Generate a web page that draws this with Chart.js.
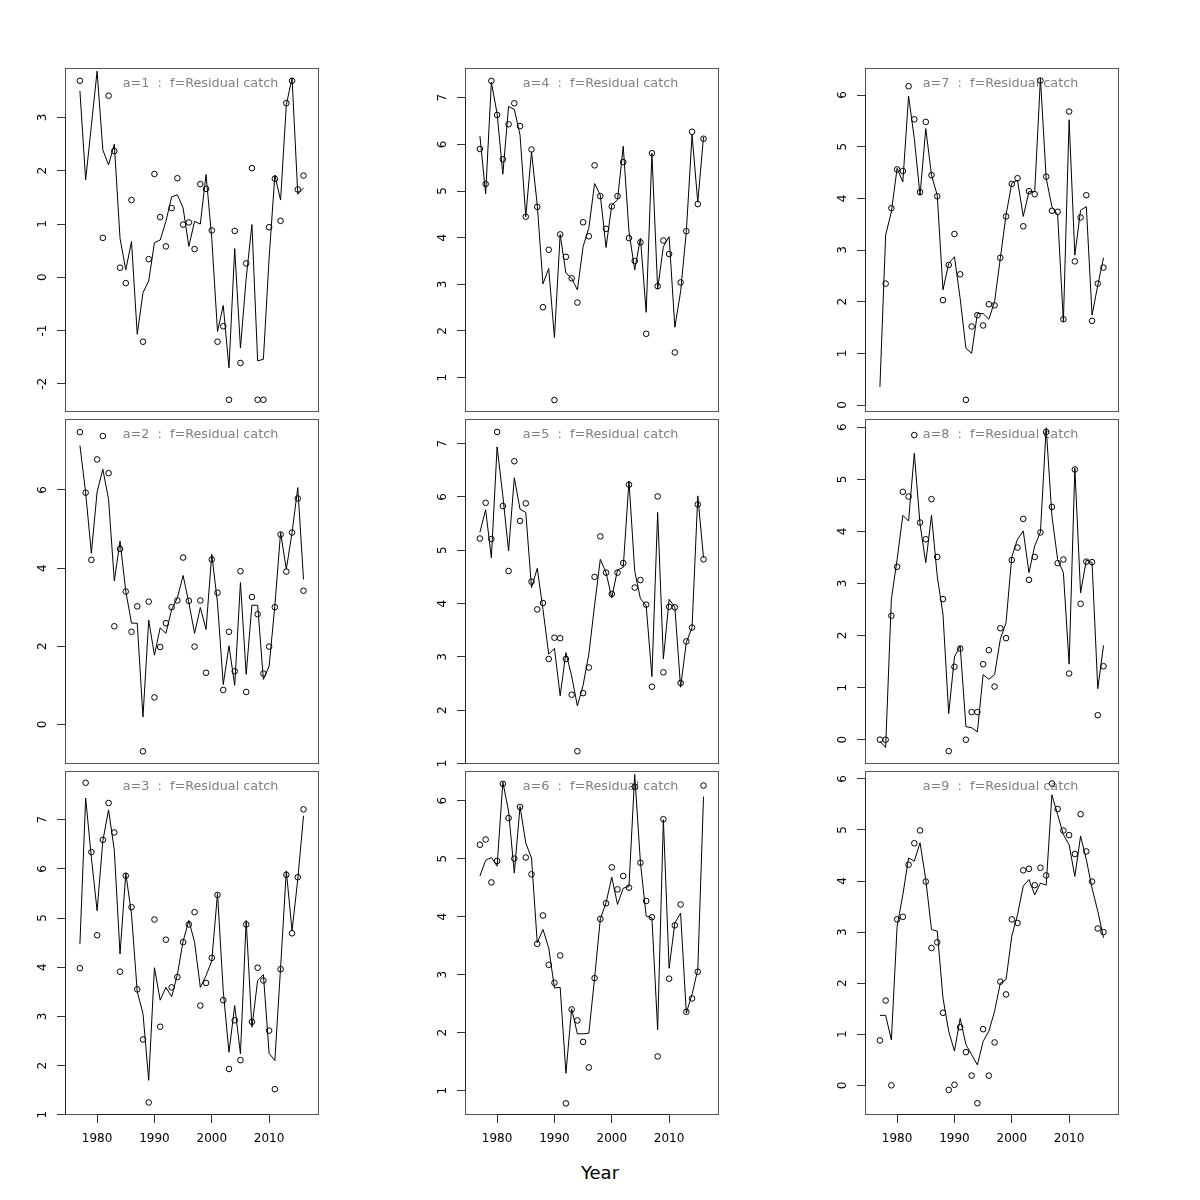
<!DOCTYPE html>
<html>
<head>
<meta charset="utf-8">
<script src="https://cdn.jsdelivr.net/npm/chart.js@4/dist/chart.umd.min.js"></script>
<style>
  html, body { margin: 0; padding: 0; background: #fff; }
  #page { position: relative; width: 1200px; height: 1200px; overflow: hidden; }
  #page canvas { position: absolute; }
  #xlab { position: absolute; left: 0; width: 1200px; top: 1162px; text-align: center;
          font-family: 'DejaVu Sans'; font-size: 18px; line-height: 22px; color: #000; }
</style>
</head>
<body>
<div id="page">
  <div id="xlab">Year</div>
</div>
<script>
// years 1977-2016
const years = [1977, 1978, 1979, 1980, 1981, 1982, 1983, 1984, 1985, 1986,
               1987, 1988, 1989, 1990, 1991, 1992, 1993, 1994, 1995, 1996,
               1997, 1998, 1999, 2000, 2001, 2002, 2003, 2004, 2005, 2006,
               2007, 2008, 2009, 2010, 2011, 2012, 2013, 2014, 2015, 2016];

// observed residual catch (circles) and fitted (line), one pair per age
const obsA1 = [3.69, null, null, null, 0.74, 3.41, 2.37, 0.18, -0.11, 1.45,
               null, -1.21, 0.34, 1.94, 1.13, 0.58, 1.30, 1.86, 0.99, 1.03,
               0.53, 1.75, 1.66, 0.88, -1.21, -0.92, -2.30, 0.87, -1.61, 0.26,
               2.05, -2.30, -2.30, 0.94, 1.85, 1.06, 3.27, 3.69, 1.65, 1.91];
const fitA1 = [3.50, 1.83, 2.85, 3.87, 2.39, 2.11, 2.50, 0.73, 0.14, 0.67,
               -1.07, -0.29, -0.07, 0.65, 0.70, 1.05, 1.51, 1.55, 1.30, 0.58,
               1.05, 1.00, 1.93, 0.73, -1.02, -0.53, -1.70, 0.54, -1.33, -0.02,
               0.99, -1.57, -1.54, 0.36, 1.92, 1.45, 3.24, 3.74, 1.56, 1.68];

const obsA2 = [7.48, 5.93, 4.21, 6.78, 7.38, 6.43, 2.51, 4.49, 3.40, 2.37,
               3.02, -0.69, 3.14, 0.69, 1.98, 2.59, 3.00, 3.17, 4.27, 3.16,
               1.99, 3.17, 1.32, 4.22, 3.37, 0.88, 2.37, 1.36, 3.92, 0.83,
               3.26, 2.82, 1.30, 1.99, 3.00, 4.86, 3.91, 4.91, 5.78, 3.42];
const fitA2 = [7.14, 5.93, 4.38, 5.95, 6.53, 5.76, 3.67, 4.69, 3.41, 2.59,
               2.59, 0.19, 2.67, 1.77, 2.47, 2.33, 2.94, 3.24, 3.81, 3.11,
               2.33, 2.99, 2.43, 4.35, 3.11, 1.02, 2.01, 1.00, 3.63, 1.28,
               3.05, 3.05, 1.15, 1.49, 3.03, 4.91, 3.97, 4.91, 6.06, 3.71];

const obsA3 = [3.98, 7.75, 6.34, 4.65, 6.59, 7.34, 6.74, 3.91, 5.86, 5.22,
               3.55, 2.53, 1.25, 4.97, 2.79, 4.56, 3.59, 3.80, 4.51, 4.87,
               5.12, 3.22, 3.68, 4.19, 5.47, 3.33, 1.93, 2.92, 2.11, 4.87,
               2.89, 3.99, 3.73, 2.71, 1.52, 3.96, 5.88, 4.69, 5.83, 7.21];
const fitA3 = [4.47, 7.44, 6.23, 5.15, 6.57, 7.20, 6.38, 4.27, 5.91, 5.08,
               3.50, 3.06, 1.70, 3.99, 3.33, 3.59, 3.40, 3.85, 4.53, 4.95,
               4.51, 3.59, 3.83, 4.13, 5.50, 3.52, 2.27, 3.22, 2.24, 4.95,
               2.78, 3.73, 3.85, 2.25, 2.10, 3.99, 5.96, 4.74, 5.79, 7.08];

const obsA4 = [5.90, 5.15, 7.36, 6.63, 5.68, 6.43, 6.88, 6.39, 4.45, 5.89,
               4.66, 2.51, 3.74, 0.52, 4.07, 3.59, 3.13, 2.61, 4.33, 4.03,
               5.55, 4.89, 4.19, 4.67, 4.89, 5.62, 3.99, 3.50, 3.90, 1.94,
               5.81, 2.96, 3.94, 3.65, 1.54, 3.04, 4.14, 6.27, 4.72, 6.12];
const fitA4 = [6.18, 4.94, 7.33, 6.66, 5.36, 6.81, 6.75, 6.20, 4.45, 5.84,
               4.70, 3.01, 3.34, 1.86, 4.07, 3.24, 3.13, 2.88, 3.81, 4.21,
               5.16, 4.91, 3.79, 4.70, 4.81, 5.96, 4.13, 3.31, 3.99, 2.40,
               5.81, 2.90, 3.81, 4.02, 2.08, 2.84, 4.13, 6.20, 4.76, 6.16];

const obsA5 = [5.22, 5.89, 5.21, 7.22, 5.83, 4.61, 6.67, 5.55, 5.88, 4.41,
               3.89, 4.01, 2.96, 3.36, 3.35, 2.96, 2.29, 1.23, 2.32, 2.80,
               4.50, 5.26, 4.58, 4.18, 4.58, 4.76, 6.23, 4.30, 4.44, 3.98,
               2.44, 6.01, 2.71, 3.94, 3.93, 2.51, 3.29, 3.55, 5.86, 4.83];
const fitA5 = [5.34, 5.76, 4.86, 6.94, 6.02, 4.99, 6.36, 5.77, 5.71, 4.30,
               4.66, 3.89, 3.05, 3.16, 2.27, 3.08, 2.64, 2.08, 2.47, 3.05,
               3.97, 4.83, 4.58, 4.11, 4.63, 4.68, 6.30, 4.61, 4.09, 3.96,
               2.63, 5.71, 2.96, 4.08, 3.93, 2.43, 3.27, 3.55, 6.02, 4.86];

const obsA6 = [5.24, 5.33, 4.59, 4.96, 6.29, 5.70, 5.00, 5.89, 5.02, 4.73,
               3.53, 4.02, 3.17, 2.86, 3.33, 0.78, 2.40, 2.21, 1.84, 1.40,
               2.94, 3.96, 4.23, 4.85, 4.47, 4.70, 4.50, 6.24, 4.93, 4.27,
               3.99, 1.59, 5.68, 2.93, 3.85, 4.21, 2.36, 2.59, 3.05, 6.26];
const fitA6 = [4.70, 4.97, 5.02, 4.87, 6.32, 5.82, 4.75, 5.90, 5.27, 5.01,
               3.55, 3.78, 3.46, 2.77, 2.78, 1.30, 2.41, 1.98, 1.98, 1.99,
               2.94, 3.96, 4.24, 4.68, 4.21, 4.49, 4.52, 6.45, 4.93, 4.01,
               3.98, 2.05, 5.67, 3.11, 3.89, 4.06, 2.34, 2.66, 3.09, 6.07];

const obsA7 = [null, 2.35, 3.81, 4.56, 4.53, 6.17, 5.53, 4.12, 5.48, 4.45,
               4.04, 2.03, 2.71, 3.31, 2.53, 0.10, 1.52, 1.74, 1.54, 1.95,
               1.93, 2.85, 3.65, 4.28, 4.39, 3.46, 4.14, 4.08, 6.28, 4.42,
               3.76, 3.74, 1.66, 5.68, 2.78, 3.63, 4.06, 1.63, 2.35, 2.66];
const fitA7 = [0.35, 3.29, 3.74, 4.58, 4.32, 5.98, 5.16, 4.06, 5.35, 4.45,
               4.06, 2.23, 2.74, 2.87, 2.06, 1.10, 1.00, 1.77, 1.77, 1.66,
               2.00, 2.84, 3.68, 4.29, 4.35, 3.65, 4.13, 4.13, 6.32, 4.39,
               3.84, 3.68, 1.61, 5.52, 2.90, 3.77, 3.84, 1.74, 2.32, 2.85];

const obsA8 = [0.00, 0.00, 2.38, 3.32, 4.76, 4.67, 5.85, 4.17, 3.85, 4.62,
               3.51, 2.70, -0.22, 1.40, 1.75, 0.00, 0.53, 0.53, 1.45, 1.72,
               1.02, 2.14, 1.95, 3.45, 3.69, 4.24, 3.07, 3.51, 3.98, 5.91,
               4.47, 3.39, 3.46, 1.27, 5.19, 2.61, 3.42, 3.41, 0.47, 1.41];
const fitA8 = [-0.03, -0.15, 2.70, 3.46, 4.31, 4.20, 5.50, 4.14, 3.40, 4.31,
               3.14, 2.41, 0.50, 1.59, 1.80, 0.25, 0.23, 0.15, 1.25, 1.16,
               1.25, 1.93, 2.25, 3.51, 3.85, 4.01, 3.21, 3.72, 3.99, 5.99,
               4.30, 3.46, 3.21, 1.45, 5.22, 2.82, 3.45, 3.40, 0.98, 1.81];

const obsA9 = [0.88, 1.66, 0.00, 3.25, 3.30, 4.32, 4.74, 4.99, 3.99, 2.69,
               2.80, 1.42, -0.09, 0.01, 1.14, 0.65, 0.19, -0.35, 1.10, 0.19,
               0.84, 2.03, 1.78, 3.25, 3.18, 4.21, 4.24, 3.92, 4.26, 4.11,
               5.91, 5.41, 4.99, 4.90, 4.53, 5.31, 4.58, 3.99, 3.07, 3.00];
const fitA9 = [1.37, 1.37, 0.89, 3.11, 3.73, 4.45, 4.39, 4.75, 4.03, 3.05,
               3.02, 1.71, 1.06, 0.67, 1.31, 0.80, 0.60, 0.40, 0.86, 1.06,
               1.45, 2.00, 2.07, 2.92, 3.34, 3.90, 4.03, 3.73, 3.96, 3.92,
               5.69, 5.30, 4.91, 4.71, 4.09, 4.88, 4.42, 3.86, 3.41, 2.89];

const xTickYears = [1980, 1990, 2000, 2010];

// panel layout (column-major like the R plot)
const colLeft = [65, 465, 865];
const rowTop = [68, 419, 771];
const rowHeight = [344, 345, 344];
const boxWidth = 254;

const panels = [
  { age: 1, obs: obsA1, fit: fitA1, col: 0, row: 0, yMin: -2.53, yMax: 3.93, yStep: 1 },
  { age: 2, obs: obsA2, fit: fitA2, col: 0, row: 1, yMin: -1.015, yMax: 7.816, yStep: 2 },
  { age: 3, obs: obsA3, fit: fitA3, col: 0, row: 2, yMin: 0.995, yMax: 7.99, yStep: 1 },
  { age: 4, obs: obsA4, fit: fitA4, col: 1, row: 0, yMin: 0.264, yMax: 7.636, yStep: 1 },
  { age: 5, obs: obsA5, fit: fitA5, col: 1, row: 1, yMin: 0.99, yMax: 7.4625, yStep: 1 },
  { age: 6, obs: obsA6, fit: fitA6, col: 1, row: 2, yMin: 0.580, yMax: 6.511, yStep: 1 },
  { age: 7, obs: obsA7, fit: fitA7, col: 2, row: 0, yMin: -0.135, yMax: 6.523, yStep: 1 },
  { age: 8, obs: obsA8, fit: fitA8, col: 2, row: 1, yMin: -0.467, yMax: 6.159, yStep: 1 },
  { age: 9, obs: obsA9, fit: fitA9, col: 2, row: 2, yMin: -0.581, yMax: 6.155, yStep: 1 }
];

const FONT = 'DejaVu Sans';
const measureCtx = document.createElement('canvas').getContext('2d');
measureCtx.font = '12px "' + FONT + '"';

// box, partial axis lines and the grey panel title
const panelFrame = {
  id: 'panelFrame',
  beforeDatasetsDraw(chart, args, opts) {
    const a = chart.chartArea;
    const ctx = chart.ctx;
    ctx.save();
    ctx.fillStyle = '#7f7f7f';
    ctx.font = '12.8px "' + FONT + '"';
    ctx.textAlign = 'center';
    ctx.textBaseline = 'middle';
    ctx.fillText(opts.title, a.left + 135.5, a.top + 16);
    ctx.restore();
  },
  afterDraw(chart, args, opts) {
    const a = chart.chartArea;
    const ctx = chart.ctx;
    const ys = chart.scales.y;
    const xs = chart.scales.x;
    ctx.save();
    ctx.lineWidth = 1;
    ctx.strokeStyle = '#555';
    ctx.strokeRect(a.left + 0.5, a.top + 0.5, a.right - a.left - 1, a.bottom - a.top - 1);
    ctx.strokeStyle = '#222';
    ctx.beginPath();
    const yt = ys.ticks;
    ctx.moveTo(a.left + 0.5, ys.getPixelForValue(yt[0].value));
    ctx.lineTo(a.left + 0.5, ys.getPixelForValue(yt[yt.length - 1].value));
    if (opts.bottom) {
      ctx.moveTo(xs.getPixelForValue(xTickYears[0]), a.bottom - 0.5);
      ctx.lineTo(xs.getPixelForValue(xTickYears[xTickYears.length - 1]), a.bottom - 0.5);
    }
    ctx.stroke();
    ctx.restore();
  }
};

const page = document.getElementById('page');

panels.forEach(p => {
  const bottom = p.row === 2;
  const canvas = document.createElement('canvas');
  const w = 60 + boxWidth + 2;
  const h = 2 + rowHeight[p.row] + (bottom ? 40 : 2);
  canvas.width = w;
  canvas.height = h;
  canvas.style.left = (colLeft[p.col] - 60) + 'px';
  canvas.style.top = (rowTop[p.row] - 2) + 'px';
  canvas.style.width = w + 'px';
  canvas.style.height = h + 'px';
  page.appendChild(canvas);

  // y tick labels: centre them 22.5px left of the box
  let widest = 0;
  for (let v = Math.ceil(p.yMin / p.yStep) * p.yStep; v <= p.yMax; v += p.yStep) {
    widest = Math.max(widest, measureCtx.measureText(String(v)).width);
  }
  const yPad = 22.5 - 8 - widest / 2;

  new Chart(canvas.getContext('2d'), {
    type: 'scatter',
    data: {
      datasets: [
        {
          data: years.map((yr, i) => ({ x: yr, y: p.fit[i] })),
          showLine: true,
          borderColor: '#000',
          borderWidth: 1,
          pointRadius: 0,
          tension: 0
        },
        {
          data: years.map((yr, i) => ({ x: yr, y: p.obs[i] })),
          showLine: false,
          pointStyle: 'circle',
          pointRadius: 2.8,
          pointBorderWidth: 1,
          pointBorderColor: '#000',
          pointBackgroundColor: 'rgba(0,0,0,0)'
        }
      ]
    },
    options: {
      responsive: false,
      animation: false,
      layout: { autoPadding: false, padding: { top: 2, left: 0, right: 2, bottom: bottom ? 0 : 2 } },
      plugins: {
        legend: { display: false },
        tooltip: { enabled: false },
        panelFrame: { title: 'a=' + p.age + '  :  f=Residual catch', bottom: bottom }
      },
      scales: {
        x: {
          type: 'linear',
          min: 1974.4,
          max: 2018.7,
          display: bottom,
          border: { display: false },
          grid: { drawOnChartArea: false, tickLength: 8, color: '#333' },
          ticks: {
            stepSize: 10,
            includeBounds: false,
            maxRotation: 0,
            autoSkip: false,
            padding: 9,
            color: '#000',
            font: { family: FONT, size: 12 },
            callback: v => String(v)
          },
          afterFit(s) {
            s.height = bottom ? 40 : 0;
            s.paddingLeft = 0;
            s.paddingRight = 0;
          }
        },
        y: {
          type: 'linear',
          min: p.yMin,
          max: p.yMax,
          border: { display: false },
          grid: { drawOnChartArea: false, tickLength: 8, color: '#333' },
          ticks: {
            stepSize: p.yStep,
            includeBounds: false,
            minRotation: 90,
            maxRotation: 90,
            crossAlign: 'center',
            autoSkip: false,
            padding: yPad,
            color: '#000',
            font: { family: FONT, size: 12 },
            callback: v => String(v)
          },
          afterFit(s) { s.width = 60; s.paddingTop = 0; s.paddingBottom = 0; }
        }
      }
    },
    plugins: [panelFrame]
  });
});
</script>
</body>
</html>
